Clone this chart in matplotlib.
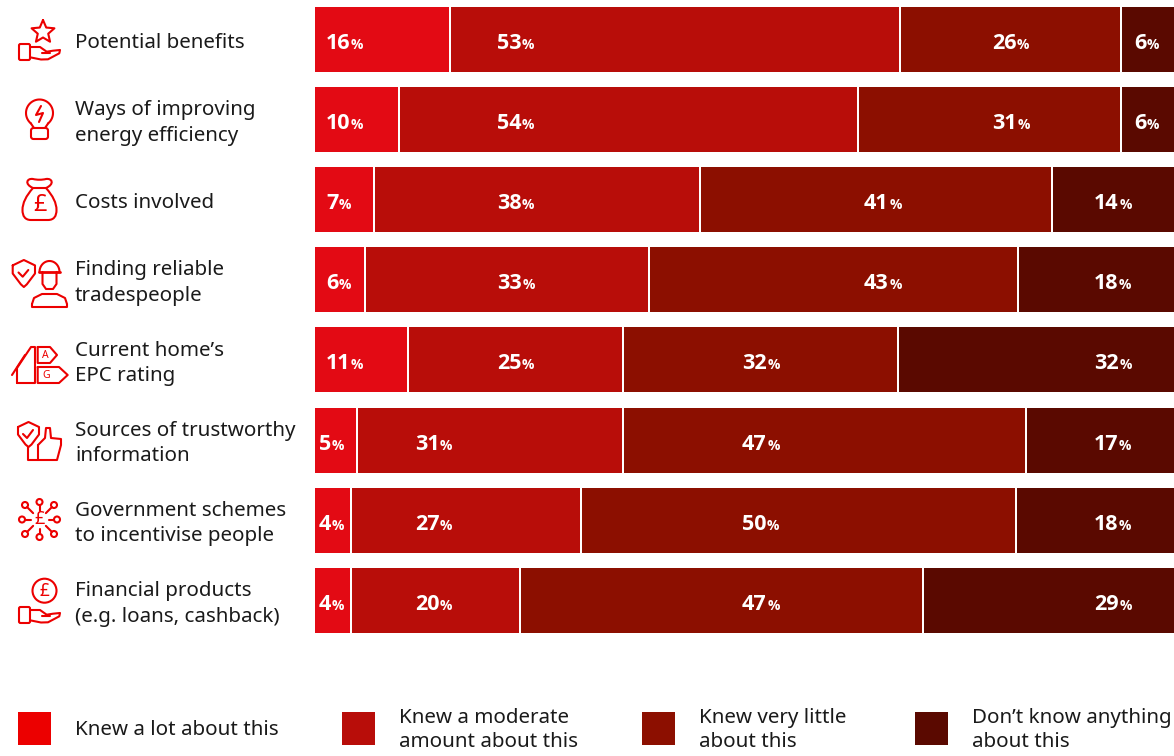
# -*- coding: utf-8 -*-
import numpy as np
import matplotlib
matplotlib.use('Agg')
import matplotlib.pyplot as plt
from matplotlib.patches import Rectangle, Circle, FancyBboxPatch, PathPatch
from matplotlib.path import Path

W, H = 1174, 756
plt.rcParams['font.family'] = ['Noto Sans', 'DejaVu Sans']
BOLD = ['Open Sans', 'DejaVu Sans']

categories = ['Potential benefits', 'Ways of improving\nenergy efficiency', 'Costs involved',
              'Finding reliable\ntradespeople', "Current home\u2019s\nEPC rating",
              'Sources of trustworthy\ninformation', 'Government schemes\nto incentivise people',
              'Financial products\n(e.g. loans, cashback)']
legend_labels = ['Knew a lot about this', 'Knew a moderate\namount about this',
                 'Knew very little\nabout this', 'Don\u2019t know anything\nabout this']

# bar lengths as measured on the picture
knew_lot = [15.8, 9.9, 7.0, 5.9, 10.9, 5.0, 4.3, 4.3]
knew_moderate = [52.3, 53.4, 37.9, 33.0, 25.0, 30.9, 26.8, 19.6]
knew_little = [25.7, 30.5, 40.9, 43.0, 32.0, 46.9, 50.5, 46.9]
know_nothing = [6.4, 6.4, 14.4, 18.3, 32.3, 17.4, 18.6, 29.4]

# printed percentages
lab_lot = [16, 10, 7, 6, 11, 5, 4, 4]
lab_moderate = [53, 54, 38, 33, 25, 31, 27, 20]
lab_little = [26, 31, 41, 43, 32, 47, 50, 47]
lab_nothing = [6, 6, 14, 18, 32, 17, 18, 29]

colors = ['#E30A14', '#B80D09', '#8C0F00', '#5A0900']
legend_colors = ['#EC0000', '#B80D09', '#8C0F00', '#5A0900']
icon_red = '#EC0000'

# left edge of each label column, in pixels
col_x = [[326, 326, 326, 326, 326, 319, 319, 319],
         [497, 497, 497, 497, 497, 415, 415, 415],
         [992, 992, 864, 864, 742, 742, 742, 742],
         [1134, 1134, 1094, 1094, 1094, 1094, 1094, 1094]]

fig = plt.figure(figsize=(W / 100, H / 100), dpi=100)
renderer = fig.canvas.get_renderer()

# overlay in pixel coords for icons and texts, has to sit above the bars
px = fig.add_axes([0, 0, 1, 1])
px.set_xlim(0, W)
px.set_ylim(H, 0)
px.axis('off')
px.set_zorder(5)

# bars
ax = fig.add_axes([314 / W, 1 - 640 / H, 860 / W, 640 / H])
ax.set_xlim(0, 100)
step = 80.1
ax.set_ylim((640 - 39.5) / step, -39.5 / step)
ax.axis('off')
ypos = np.arange(len(categories))
left = np.zeros(len(categories))
series = [knew_lot, knew_moderate, knew_little, know_nothing]
for vals, c in zip(series, colors):
    ax.barh(ypos, vals, left=left, height=67 / step, color=c, edgecolor='white', linewidth=1.44)
    left = left + np.array(vals)

labels = [lab_lot, lab_moderate, lab_little, lab_nothing]
for cols, labs in zip(col_x, labels):
    for i in range(len(labs)):
        y = 39.5 + step * i + 9.5
        t = px.text(cols[i], y, str(labs[i]), color='white', fontsize=15.5, fontweight='bold',
                    family=BOLD, ha='left', va='baseline')
        # percent sign sits right after the digits on the same baseline
        x1 = t.get_window_extent(renderer).x1
        px.text(x1 + 0.5, y, '%', color='white', fontsize=10, fontweight='bold',
                family=BOLD, ha='left', va='baseline')

for i, name in enumerate(categories):
    px.text(75, 43 + step * i, name, fontsize=14.8, color='#1a1a1a', ha='left', va='center', linespacing=1.375)


# icons
def line(pts, closed=False, lw=1.5):
    pts = np.array(pts, dtype=float)
    if closed:
        pts = np.vstack([pts, pts[:1]])
    px.plot(pts[:, 0], pts[:, 1], color=icon_red, lw=lw, solid_joinstyle='round', solid_capstyle='round')


def ring(x, y, r, lw=1.5):
    px.add_patch(Circle((x, y), r, fill=False, ec=icon_red, lw=lw))


def rbox(x0, y0, x1, y1, r=2):
    px.add_patch(FancyBboxPatch((x0 + r, y0 + r), x1 - x0 - 2 * r, y1 - y0 - 2 * r,
                                boxstyle='round,pad=%s' % r, fill=False, ec=icon_red, lw=1.5))


def glyph(x, y, s, size, weight='normal'):
    px.text(x, y, s, color=icon_red, fontsize=size, ha='center', va='center', fontweight=weight)


def hand(dy):
    rbox(19, 44 + dy, 30, 60 + dy, 1.5)
    line(np.array([(30, 47), (40, 47), (46.7, 51.7), (53, 50.7), (60, 50), (59.3, 53.3),
                   (48, 59.3), (41, 59.5), (30, 57.3)]) + [0, dy])
    line(np.array([(41.7, 52.7), (50, 52.7)]) + [0, dy])


def shield(x0, x1, top, bot):
    mid = (x0 + x1) / 2
    h = bot - top
    line([(x0, top + .2 * h), (mid, top), (x1, top + .2 * h), (x1, top + .5 * h),
          (mid + 3, top + .9 * h), (mid, bot), (mid - 3, top + .9 * h), (x0, top + .5 * h)], closed=True)


# star and hand
ang = np.pi / 2 + np.arange(10) * np.pi / 5
rad = np.where(np.arange(10) % 2 == 0, 12, 5.5)
line(np.c_[43 + rad * np.cos(ang), 32 - rad * np.sin(ang)], closed=True)
hand(0)

# bulb
th = np.radians(np.linspace(-50, 230, 50))
line(np.c_[39.5 + 13.5 * np.cos(th), 113 - 13.5 * np.sin(th)])
line([(30.8, 123.3), (34, 128)])
line([(48.2, 123.3), (45, 128)])
rbox(31, 128, 48, 139, 2.5)
line([(41, 106), (36, 115), (43, 113), (39, 122)])

# money bag
M, L, C = Path.MOVETO, Path.LINETO, Path.CURVE4
bag = [(33, 188), (26, 196), (22.5, 203), (22.5, 210), (22.5, 216), (25, 220), (31, 220), (48, 220),
       (54, 220), (56.5, 216), (56.5, 210), (56.5, 203), (53, 196), (46, 188)]
codes = [M, C, C, C, C, C, C, L, C, C, C, C, C, C]
px.add_patch(PathPatch(Path(bag, codes), fill=False, ec=icon_red, lw=1.5))
line([(33, 188), (46, 188)])
tie = [(33, 188), (24, 184), (27, 178), (33, 179), (37, 180), (42, 180), (46, 179),
       (52, 178), (55, 184), (46, 188)]
px.add_patch(PathPatch(Path(tie, [M] + [C] * 9), fill=False, ec=icon_red, lw=1.5))
glyph(39.5, 205, '\u00a3', 17)

# shield and worker
shield(12.7, 35, 260, 287)
line([(18.5, 272.5), (22.7, 276.7), (28.3, 270)])
th = np.linspace(0, np.pi, 30)
line(np.c_[49.5 + 10 * np.cos(th), 272 - 11 * np.sin(th)])
line([(39, 272), (60, 272)], lw=2)
line([(42.5, 272), (42.5, 284), (46, 289), (53, 289), (56.5, 284), (56.5, 272)])
line([(32, 304), (34, 298), (42, 294), (57, 294), (65, 298), (67, 304), (67, 307), (32, 307)], closed=True)

# house and tags
line([(12, 375), (25, 355)])
line([(17, 383), (35, 383), (35, 347), (31, 347), (17, 368)], closed=True)
line([(37.7, 347), (50, 347), (57, 355), (50, 363), (37.7, 363)], closed=True)
line([(37.7, 367), (59, 367), (67.7, 375), (59, 383), (37.7, 383)], closed=True)
glyph(45, 355, 'A', 7.5, 'bold')
glyph(46, 375, 'G', 7.5, 'bold')

# shield and thumb
shield(18, 39, 422, 447)
line([(23, 434), (27, 438), (33, 430)])
line([(28, 447), (28, 460), (38, 460), (38, 445)])
line([(38, 445), (45, 438), (46, 428), (50, 428), (51, 438), (61, 439), (61, 445), (57, 460), (38, 460)])

# network with pound sign
cx, cy = 39.5, 519.5
for k in range(8):
    a = k * np.pi / 4
    r = 17.5 if k % 2 == 0 else 20.5
    c, s = np.cos(a), np.sin(a)
    ring(cx + r * c, cy - r * s, 3, 1.5)
    line([(cx + 9 * c, cy - 9 * s), (cx + (r - 3) * c, cy - (r - 3) * s)])
glyph(cx, cy, '\u00a3', 13, 'bold')

# coin and hand
ring(44.5, 590.7, 12)
glyph(44.5, 590.7, '\u00a3', 12.5)
hand(563)

# legend
box_x = [18, 342, 642, 915]
text_x = [75, 399, 699, 972]
for bx, tx, c, name in zip(box_x, text_x, legend_colors, legend_labels):
    px.add_patch(Rectangle((bx, 712), 33, 33, fc=c, ec='none'))
    px.text(tx, 730, name, fontsize=14.8, color='#1a1a1a', ha='left', va='center', linespacing=1.32)

fig.savefig('out.png', dpi=100)
